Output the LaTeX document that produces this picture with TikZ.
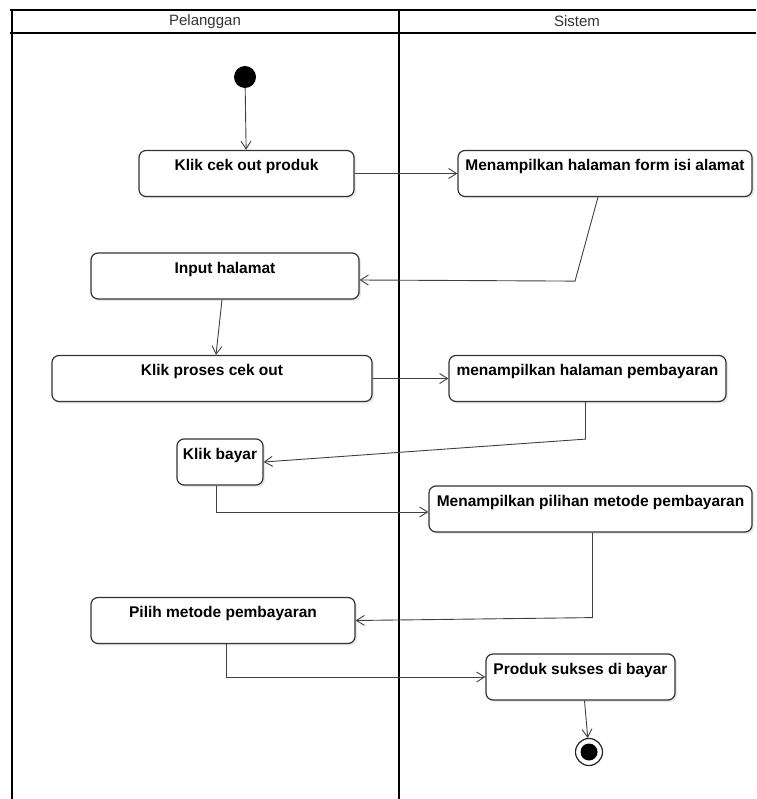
\documentclass[tikz,border=0pt]{standalone}
\usepackage{fontspec}
\setmainfont{Liberation Sans}
\usetikzlibrary{arrows.meta,calc,shadows}
\begin{document}
\begin{tikzpicture}[x=1pt, y=-1pt,
    act/.style={draw=black!80, line width=1.2pt, rounded corners=7pt, fill=white,
        drop shadow={opacity=0.18, shadow xshift=2pt, shadow yshift=-2pt},
        font=\bfseries\fontsize{15.5}{18}\selectfont, inner xsep=4pt, inner ysep=4pt,
        text height=16pt, text depth=22pt},
    flow/.style={draw=black!75, line width=0.9pt, -{Straight Barb[length=8pt, width=10pt]}},
    lane/.style={line width=2.8pt},
    lanetitle/.style={font=\fontsize{15}{18}\selectfont, text=black!80}]
    \useasboundingbox (0,0) rectangle (756,799);
    \draw[line width=2pt] (10,10) -- (756,10);
    \draw[line width=2pt] (10,33) -- (756,33);
    \draw[lane] (12,9) -- (12,799);
    \draw[lane] (399,9) -- (399,799);
    \node[lanetitle] (pel) at (205,21.5) {Pelanggan};
    \node[lanetitle] (sis) at (577,21.5) {Sistem};
    \node[circle, fill=black, minimum size=22pt, inner sep=0pt] (start) at (245,77) {};
    \node[act, minimum width=215pt] (a1) at (246.5,173.5) {Klik cek out produk};
    \node[act, minimum width=294pt] (a2) at (605,173.5) {Menampilkan halaman form isi alamat};
    \node[act, minimum width=268pt] (a3) at (225,276) {Input halamat};
    \node[act, minimum width=320pt] (a4) at (212,378.5) {Klik proses cek out};
    \node[act, minimum width=277pt] (a5) at (587.5,378.5) {menampilkan halaman pembayaran};
    \node[act, minimum width=86pt] (a6) at (220,462) {Klik bayar};
    \node[act, minimum width=323pt] (a7) at (590.5,509) {Menampilkan pilihan metode pembayaran};
    \node[act, minimum width=264pt] (a8) at (223,620.5) {Pilih metode pembayaran};
    \node[act, minimum width=189pt] (a9) at (580.5,677) {Produk sukses di bayar};
    \node[circle, draw=black!85, line width=1.2pt, minimum size=27pt, inner sep=0pt, fill=white,
        path picture={\fill[black] (path picture bounding box.center) circle (8.5pt);}] (end) at (589,752) {};
    \draw[flow] (start) -- (a1);
    \draw[flow] (a1) -- (a2);
    \draw[flow] ($(a2.south)+(-7,0)$) -- ++(-23,84) -- ($(a3.east)+(0,4)$);
    \draw[flow] ($(a3.south)+(-3,0)$) -- ($(a4.north)+(4,0)$);
    \draw[flow] (a4) -- (a5);
    \draw[flow] ($(a5.south)+(-2,0)$) -- ++(0,37) -- (a6.east);
    \draw[flow] ($(a6.south)+(-4,0)$) |- ($(a7.west)+(0,3)$);
    \draw[flow] ($(a7.south)+(2,0)$) -- ++(0,85) -- (a8.east);
    \draw[flow] ($(a8.south)+(3,0)$) |- (a9.west);
    \draw[flow] ($(a9.south)+(4,0)$) -- (end);
\end{tikzpicture}
\end{document}
